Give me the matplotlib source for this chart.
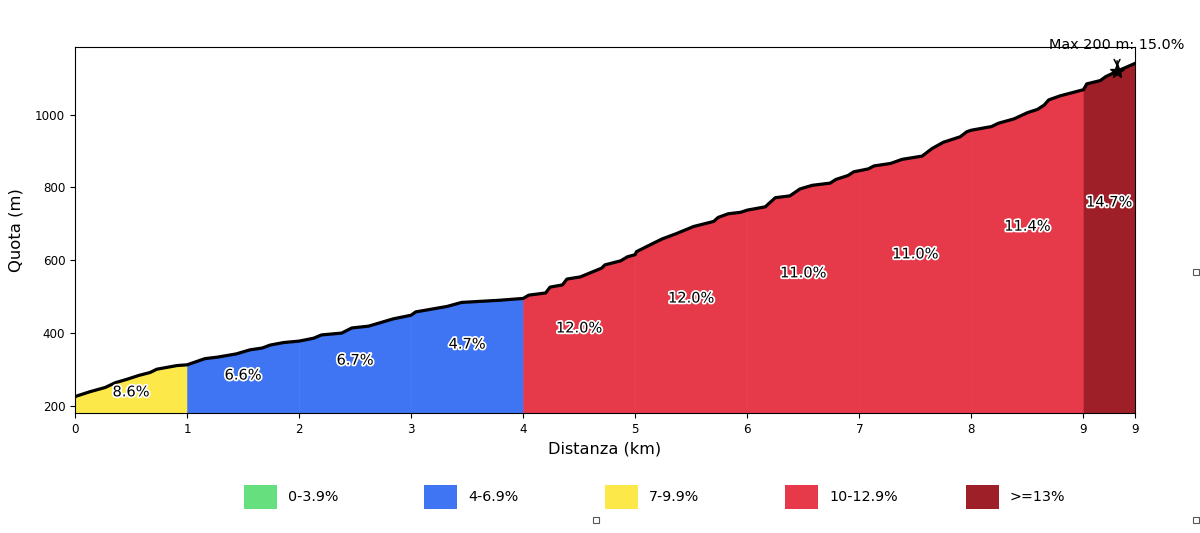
import numpy as np
import matplotlib
matplotlib.use('Agg')
import matplotlib.pyplot as plt
import matplotlib.patheffects as pe
from matplotlib.patches import Rectangle

# profile
distanza = [0, 0.13, 0.27, 0.36, 0.46, 0.57, 0.67, 0.73, 0.91, 1.0,
            1.16, 1.27, 1.44, 1.56, 1.67, 1.74, 1.86, 2.0, 2.13, 2.2,
            2.38, 2.47, 2.62, 2.84, 3.0, 3.04, 3.32, 3.45, 3.62, 3.79,
            4.0, 4.05, 4.2, 4.24, 4.35, 4.39, 4.51, 4.7, 4.73, 4.87,
            4.93, 5.0, 5.01, 5.16, 5.24, 5.37, 5.52, 5.7, 5.74, 5.83,
            5.94, 6.0, 6.16, 6.25, 6.38, 6.47, 6.58, 6.74, 6.79, 6.9,
            6.95, 7.0, 7.08, 7.13, 7.28, 7.38, 7.56, 7.65, 7.75, 7.9,
            7.96, 8.0, 8.18, 8.24, 8.38, 8.5, 8.59, 8.65, 8.69, 8.79,
            9.0, 9.03, 9.15, 9.2, 9.31, 9.46]
quota = [227, 240, 252, 265, 274, 285, 293, 302, 312, 314,
         331, 335, 344, 355, 360, 368, 375, 379, 387, 396,
         401, 415, 420, 440, 450, 459, 474, 485, 488, 491,
         496, 505, 511, 527, 533, 549, 555, 579, 588, 599,
         610, 616, 624, 647, 659, 674, 693, 707, 718, 728,
         732, 738, 747, 772, 777, 796, 806, 812, 822, 833,
         843, 846, 851, 859, 866, 877, 886, 907, 924, 939,
         953, 957, 967, 976, 988, 1005, 1014, 1026, 1040, 1051,
         1068, 1084, 1093, 1104, 1120, 1140]

km_start = [0, 1, 2, 3, 4, 5, 6, 7, 8, 9]
km_end = [1, 2, 3, 4, 5, 6, 7, 8, 9, 9.46]
pendenza = [8.6, 6.6, 6.7, 4.7, 12.0, 12.0, 11.0, 11.0, 11.4, 14.7]
label_x = [0.5, 1.5, 2.5, 3.5, 4.5, 5.5, 6.5, 7.5, 8.5, 9.23]
label_y = [240, 286, 327, 371, 415, 497, 566, 618, 694, 760]

bin_edges = [4, 7, 10, 13]
bin_names = ['0-3.9%', '4-6.9%', '7-9.9%', '10-12.9%', '>=13%']
bin_colors = ['#66E07F', '#3F74F3', '#FDE84A', '#E6394A', '#9E1F27']

x_ticks = [0, 1, 2, 3, 4, 5, 6, 7, 8, 9, 9.46]
x_tick_labels = ['0', '1', '2', '3', '4', '5', '6', '7', '8', '9', '9']
y_ticks = [200, 400, 600, 800, 1000]

max_x = 9.3
max_y = 1119
max_label = 'Max 200 m: 15.0%'

W, H = 1200, 533
fig = plt.figure(figsize=(12, 5.33), dpi=100)
ax = fig.add_axes([75 / W, 1 - 413 / H, 1060 / W, 366 / H])

x = np.array(distanza)
y = np.array(quota)

for a, b, p, lx, ly in zip(km_start, km_end, pendenza, label_x, label_y):
    m = (x >= a) & (x <= b)
    c = bin_colors[np.digitize(p, bin_edges)]
    # thin edge so the seams between km stay faint
    ax.fill_between(x[m], y[m], 0, facecolor=c, edgecolor=c, linewidth=0.4)
    ax.text(lx, ly, f'{p:.1f}%', ha='center', va='center', fontsize=10.5, color='black',
            path_effects=[pe.withStroke(linewidth=2.5, foreground='white')], zorder=5)

ax.plot(x, y, color='black', linewidth=2.3, zorder=4)
ax.plot([max_x], [max_y], marker='*', color='black', markersize=11, zorder=6, linestyle='none')
ax.annotate(max_label, xy=(max_x, max_y), xytext=(max_x, 1170), ha='center', va='bottom',
            fontsize=10.4, annotation_clip=False,
            arrowprops=dict(arrowstyle='->', color='black', lw=1.1, shrinkA=4, shrinkB=3))

ax.set_xlim(0, 9.46)
ax.set_ylim(182, 1185)
ax.set_xticks(x_ticks)
ax.set_xticklabels(x_tick_labels)
ax.set_yticks(y_ticks)
ax.tick_params(labelsize=8.6)
ax.set_xlabel('Distanza (km)', fontsize=11.6, labelpad=4)
ax.set_ylabel('Quota (m)', fontsize=11.8, labelpad=8.5)

# legend boxes sit on an even spacing, so no ax.legend here
for i, (name, c) in enumerate(zip(bin_names, bin_colors)):
    left = 244 + i * 180.4
    fig.add_artist(Rectangle((left / W, 1 - 509 / H), 33 / W, 24 / H, color=c,
                             transform=fig.transFigure, linewidth=0))
    fig.text((left + 44) / W, 1 - 497 / H, name, fontsize=10.3, va='center')

# little handles left in the screenshot
for hx, hy in [(596, 520), (1196, 272), (1196, 520)]:
    fig.add_artist(Rectangle(((hx - 3) / W, 1 - (hy + 3) / H), 6 / W, 6 / H, facecolor='white',
                             edgecolor='#555555', linewidth=0.8, transform=fig.transFigure))

fig.savefig('out.png', dpi=100)
